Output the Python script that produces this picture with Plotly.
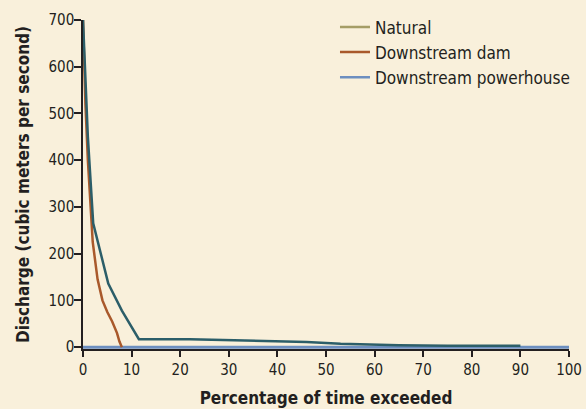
import plotly.graph_objects as go

# Data
natural_x = [0, 1, 2.1, 5.2, 8, 11.5, 22, 30, 40, 46, 53, 60, 65, 75, 90]
natural_y = [700, 450, 265, 136, 78, 17, 17, 15, 12, 11, 7, 5, 4, 3, 3]

dam_x = [0, 0.5, 1, 1.5, 2, 3, 4, 5, 6, 7, 7.5, 8]
dam_y = [700, 520, 400, 300, 225, 145, 100, 75, 55, 30, 12, 0]

powerhouse_x = [0, 100]
powerhouse_y = [0, 0]

legend_names = ["Natural", "Downstream dam", "Downstream powerhouse"]
legend_colors = ["#A59D66", "#A9592B", "#6D8FC0"]

x_ticks = [0, 10, 20, 30, 40, 50, 60, 70, 80, 90, 100]
y_ticks = [0, 100, 200, 300, 400, 500, 600, 700]

FONT = "Liberation Sans Narrow, DejaVu Sans Condensed, Arial Narrow, sans-serif"
BG = "#F9F0DB"
INK = "#231F20"

fig = go.Figure()

fig.add_trace(go.Scatter(x=powerhouse_x, y=powerhouse_y, mode="lines",
                         line=dict(color="#6D8FC0", width=3), showlegend=False,
                         hoverinfo="skip"))
fig.add_trace(go.Scatter(x=dam_x, y=dam_y, mode="lines",
                         line=dict(color="#A9592B", width=2.5), showlegend=False))
fig.add_trace(go.Scatter(x=natural_x, y=natural_y, mode="lines",
                         line=dict(color="#2C5E69", width=2.5), showlegend=False))

for name, col in zip(legend_names, legend_colors):
    fig.add_trace(go.Scatter(x=[None], y=[None], mode="lines", name=name,
                             line=dict(color=col, width=2.5)))

fig.update_layout(
    width=586, height=409,
    paper_bgcolor=BG, plot_bgcolor=BG,
    margin=dict(l=83, r=17, t=20, b=60, autoexpand=False),
    font=dict(family=FONT, size=15, color=INK),
    showlegend=True,
    legend=dict(x=0.5185, y=1.032, xanchor="left", yanchor="top",
                bgcolor="rgba(0,0,0,0)", font=dict(size=17, color=INK),
                tracegroupgap=0),
)

fig.update_xaxes(range=[0, 100], tickvals=x_ticks, ticks="outside", ticklen=6,
                 tickwidth=1.5, tickcolor=INK, showline=True, automargin=False,
                 linecolor=INK, linewidth=1.5, showgrid=False, zeroline=False,
                 tickfont=dict(size=15),
                 title=dict(text="<b>Percentage of time exceeded</b>",
                            font=dict(size=17), standoff=14))
fig.update_yaxes(range=[-4, 700], tickvals=y_ticks, ticks="outside", ticklen=7,
                 tickwidth=1.5, tickcolor=INK, showline=True, automargin=False,
                 linecolor=INK, linewidth=1.5, showgrid=False, zeroline=False,
                 tickfont=dict(size=15), ticklabelstandoff=-3,
                 title=dict(text="<b>Discharge (cubic meters per second)</b>",
                            font=dict(size=17), standoff=15))

fig.write_html(
    "out.html",
    config={"displayModeBar": False},
    post_script="document.body.style.margin='0';document.body.style.background='%s';" % BG,
)
